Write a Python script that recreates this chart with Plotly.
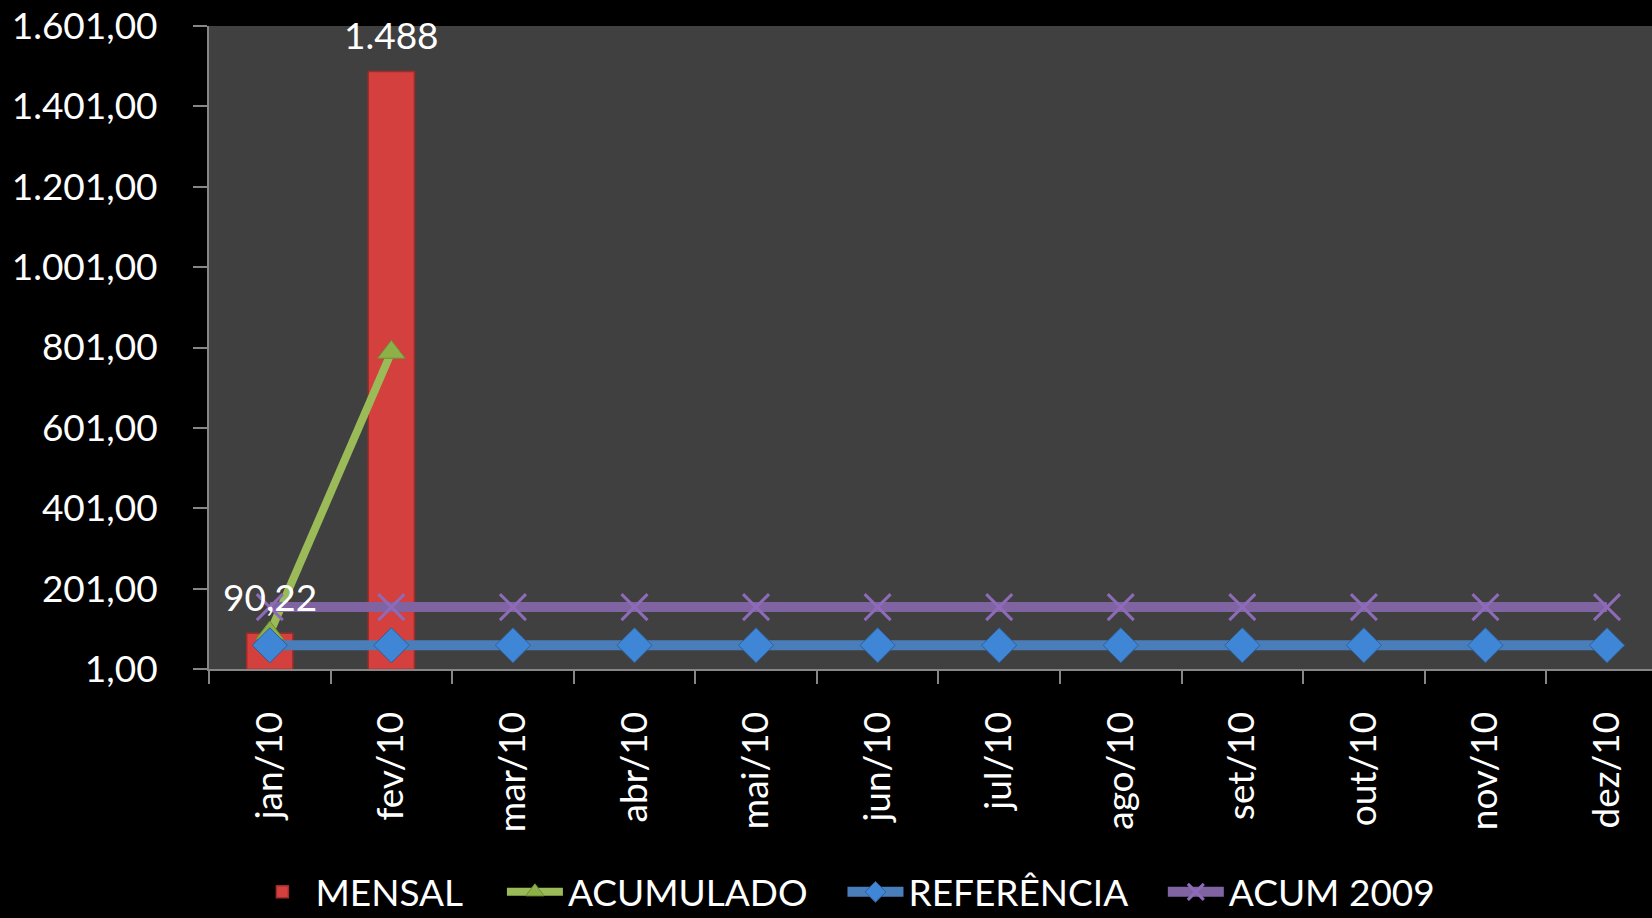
import plotly.graph_objects as go

months = ["jan/10", "fev/10", "mar/10", "abr/10", "mai/10", "jun/10",
          "jul/10", "ago/10", "set/10", "out/10", "nov/10", "dez/10"]
mensal = [90.22, 1488, None, None, None, None, None, None, None, None, None, None]
acumulado = [90.22, 789.11, None, None, None, None, None, None, None, None, None, None]
referencia = [60] * 12
acum_2009 = [155] * 12
y_ticks = [1, 201, 401, 601, 801, 1001, 1201, 1401, 1601]


def br_fmt(v):
    if float(v).is_integer():
        return f"{int(v):,}".replace(",", ".")
    return f"{v:,.2f}".replace(",", "X").replace(".", ",").replace("X", ".")


FONT = "Lato"
AXIS_COLOR = "#868686"

fig = go.Figure()
fig.add_trace(go.Bar(
    x=months, y=mensal, name="MENSAL", legend="legend",
    marker=dict(color="#D3403D", line=dict(color="#A02C2A", width=1.5)),
    width=0.38,
))
fig.add_trace(go.Scatter(
    x=months, y=acumulado, name="ACUMULADO", mode="lines+markers", legend="legend2",
    line=dict(color="#9BBB59", width=8),
    marker=dict(symbol="triangle-up", size=24, color="#8DB048",
                line=dict(color="#6E8F34", width=1)),
))
fig.add_trace(go.Scatter(
    x=months, y=referencia, name="REFERÊNCIA", mode="lines+markers", legend="legend3",
    line=dict(color="#4A7EBB", width=10),
    marker=dict(symbol="diamond", size=27, color="#3F87D6",
                line=dict(color="#2F5F97", width=1)),
))
fig.add_trace(go.Scatter(
    x=months, y=acum_2009, name="ACUM 2009", mode="lines+markers", legend="legend4",
    line=dict(color="#8064A2", width=10),
    marker=dict(symbol="x-thin", size=26, color="#8E6BB8",
                line=dict(color="#8E6BB8", width=3)),
))

# data labels above the bars
for m, v in zip(months, mensal):
    if v is not None:
        fig.add_annotation(x=m, y=v, text=br_fmt(v), showarrow=False,
                           yanchor="middle", yshift=37,
                           font=dict(family=FONT, size=37, color="white"))

n = len(months)
x_range = [-0.5, n - 1 + 0.37]
y_range = [y_ticks[0], y_ticks[-1]]


def leg(x):
    return dict(orientation="h", x=x, xanchor="left",
                yref="container", y=0.028, yanchor="middle",
                font=dict(family=FONT, size=37, color="white"),
                bgcolor="rgba(0,0,0,0)", itemwidth=56, itemsizing="trace")


fig.update_layout(
    width=1652, height=918,
    paper_bgcolor="black", plot_bgcolor="#404040",
    separators=",.",
    font=dict(family=FONT, size=37, color="white"),
    margin=dict(l=209, r=0, t=26, b=249),
    showlegend=True,
    legend=leg(0.028),
    legend2=leg(0.203),
    legend3=leg(0.439),
    legend4=leg(0.661),
    xaxis=dict(
        type="category", categoryorder="array", categoryarray=months,
        range=x_range, showgrid=False, zeroline=False,
        showline=True, linecolor=AXIS_COLOR, linewidth=2,
        ticks="outside", ticklen=13, tickwidth=2, tickcolor=AXIS_COLOR,
        tickson="boundaries", tickangle=-90,
        ticklabelstandoff=26,
        tickfont=dict(family=FONT, size=37, color="white"),
    ),
    yaxis=dict(
        range=y_range, tickvals=y_ticks, tickformat=",.2f",
        showgrid=False, zeroline=False,
        showline=True, linecolor=AXIS_COLOR, linewidth=2,
        ticks="outside", ticklen=14, tickwidth=2, tickcolor=AXIS_COLOR,
        ticklabelstandoff=28,
        tickfont=dict(family=FONT, size=37, color="white"),
    ),
    xaxis2=dict(
        overlaying="x", anchor="y", range=x_range, side="bottom",
        tickvals=[i - 0.5 for i in range(n + 1)], showticklabels=False,
        ticks="inside", ticklen=14, tickwidth=2, tickcolor=AXIS_COLOR,
        showgrid=False, zeroline=False, showline=False,
    ),
    yaxis2=dict(
        overlaying="y", anchor="x", range=y_range, side="left",
        tickvals=y_ticks, showticklabels=False,
        ticks="inside", ticklen=13, tickwidth=2, tickcolor=AXIS_COLOR,
        showgrid=False, zeroline=False, showline=False,
    ),
)

fig.write_html("out.html", config={"displayModeBar": False},
               post_script="document.body.style.margin='0';document.body.style.overflow='hidden';")
